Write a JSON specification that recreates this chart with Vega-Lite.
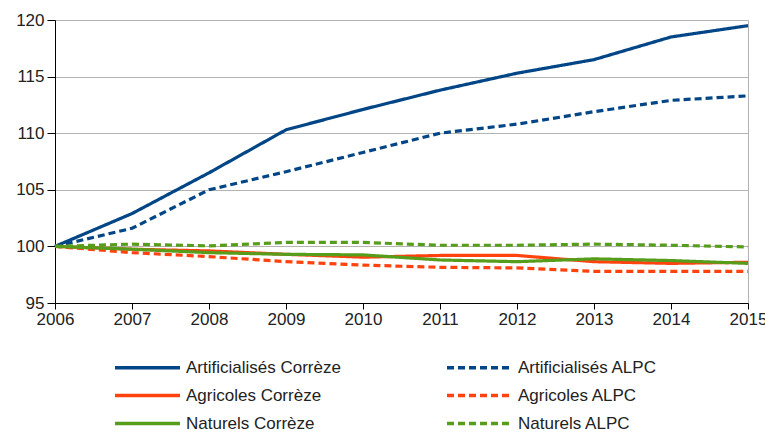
{
  "$schema": "https://vega.github.io/schema/vega-lite/v6.json",
  "width": 693,
  "height": 283,
  "autosize": "none",
  "padding": {"left": 55, "top": 20, "right": 17, "bottom": 129},
  "background": "white",
  "config": {
    "font": "Liberation Sans",
    "view": {"stroke": "#b3b3b3", "strokeWidth": 1}
  },
  "data": {
    "values": [
      {"year": 2006, "series": "Artificialisés Corrèze", "v": 100},
      {"year": 2007, "series": "Artificialisés Corrèze", "v": 102.9},
      {"year": 2008, "series": "Artificialisés Corrèze", "v": 106.5},
      {"year": 2009, "series": "Artificialisés Corrèze", "v": 110.3},
      {"year": 2010, "series": "Artificialisés Corrèze", "v": 112.1},
      {"year": 2011, "series": "Artificialisés Corrèze", "v": 113.8},
      {"year": 2012, "series": "Artificialisés Corrèze", "v": 115.3},
      {"year": 2013, "series": "Artificialisés Corrèze", "v": 116.5},
      {"year": 2014, "series": "Artificialisés Corrèze", "v": 118.5},
      {"year": 2015, "series": "Artificialisés Corrèze", "v": 119.5},
      {"year": 2006, "series": "Artificialisés ALPC", "v": 100},
      {"year": 2007, "series": "Artificialisés ALPC", "v": 101.6},
      {"year": 2008, "series": "Artificialisés ALPC", "v": 105.0},
      {"year": 2009, "series": "Artificialisés ALPC", "v": 106.6},
      {"year": 2010, "series": "Artificialisés ALPC", "v": 108.3},
      {"year": 2011, "series": "Artificialisés ALPC", "v": 110.0},
      {"year": 2012, "series": "Artificialisés ALPC", "v": 110.8},
      {"year": 2013, "series": "Artificialisés ALPC", "v": 111.9},
      {"year": 2014, "series": "Artificialisés ALPC", "v": 112.9},
      {"year": 2015, "series": "Artificialisés ALPC", "v": 113.3},
      {"year": 2006, "series": "Agricoles Corrèze", "v": 100},
      {"year": 2007, "series": "Agricoles Corrèze", "v": 99.75},
      {"year": 2008, "series": "Agricoles Corrèze", "v": 99.6},
      {"year": 2009, "series": "Agricoles Corrèze", "v": 99.3},
      {"year": 2010, "series": "Agricoles Corrèze", "v": 99.05},
      {"year": 2011, "series": "Agricoles Corrèze", "v": 99.2},
      {"year": 2012, "series": "Agricoles Corrèze", "v": 99.2},
      {"year": 2013, "series": "Agricoles Corrèze", "v": 98.65},
      {"year": 2014, "series": "Agricoles Corrèze", "v": 98.5},
      {"year": 2015, "series": "Agricoles Corrèze", "v": 98.6},
      {"year": 2006, "series": "Agricoles ALPC", "v": 100},
      {"year": 2007, "series": "Agricoles ALPC", "v": 99.45},
      {"year": 2008, "series": "Agricoles ALPC", "v": 99.1},
      {"year": 2009, "series": "Agricoles ALPC", "v": 98.65},
      {"year": 2010, "series": "Agricoles ALPC", "v": 98.35},
      {"year": 2011, "series": "Agricoles ALPC", "v": 98.15},
      {"year": 2012, "series": "Agricoles ALPC", "v": 98.1},
      {"year": 2013, "series": "Agricoles ALPC", "v": 97.8},
      {"year": 2014, "series": "Agricoles ALPC", "v": 97.8},
      {"year": 2015, "series": "Agricoles ALPC", "v": 97.8},
      {"year": 2006, "series": "Naturels Corrèze", "v": 100},
      {"year": 2007, "series": "Naturels Corrèze", "v": 99.75},
      {"year": 2008, "series": "Naturels Corrèze", "v": 99.45},
      {"year": 2009, "series": "Naturels Corrèze", "v": 99.3},
      {"year": 2010, "series": "Naturels Corrèze", "v": 99.25},
      {"year": 2011, "series": "Naturels Corrèze", "v": 98.8},
      {"year": 2012, "series": "Naturels Corrèze", "v": 98.65},
      {"year": 2013, "series": "Naturels Corrèze", "v": 98.9},
      {"year": 2014, "series": "Naturels Corrèze", "v": 98.75},
      {"year": 2015, "series": "Naturels Corrèze", "v": 98.5},
      {"year": 2006, "series": "Naturels ALPC", "v": 100},
      {"year": 2007, "series": "Naturels ALPC", "v": 100.2},
      {"year": 2008, "series": "Naturels ALPC", "v": 100.05},
      {"year": 2009, "series": "Naturels ALPC", "v": 100.35},
      {"year": 2010, "series": "Naturels ALPC", "v": 100.35},
      {"year": 2011, "series": "Naturels ALPC", "v": 100.1},
      {"year": 2012, "series": "Naturels ALPC", "v": 100.1},
      {"year": 2013, "series": "Naturels ALPC", "v": 100.2},
      {"year": 2014, "series": "Naturels ALPC", "v": 100.1},
      {"year": 2015, "series": "Naturels ALPC", "v": 99.95}
    ]
  },
  "mark": {"type": "line", "strokeWidth": 3.2, "strokeCap": "butt", "strokeJoin": "round"},
  "encoding": {
    "x": {
      "field": "year", "type": "quantitative",
      "scale": {"domain": [2006, 2015], "nice": false, "zero": false},
      "axis": {
        "title": null, "format": "d", "values": [2006, 2007, 2008, 2009, 2010, 2011, 2012, 2013, 2014, 2015],
        "grid": false, "labelFlush": false, "labelOverlap": false, "labelBound": false,
        "domainColor": "#000000", "tickColor": "#000000", "tickSize": 6,
        "labelFontSize": 17, "labelColor": "#222222", "labelPadding": 2
      }
    },
    "y": {
      "field": "v", "type": "quantitative",
      "scale": {"domain": [95, 120], "nice": false, "zero": false},
      "axis": {
        "title": null, "values": [95, 100, 105, 110, 115, 120],
        "grid": true, "gridColor": "#b3b3b3", "gridWidth": 1,
        "domainColor": "#000000", "tickColor": "#000000", "tickSize": 8,
        "labelFontSize": 17, "labelColor": "#222222", "labelPadding": 3
      }
    },
    "color": {
      "field": "series", "type": "nominal",
      "scale": {
        "domain": ["Artificialisés Corrèze", "Agricoles Corrèze", "Naturels Corrèze", "Artificialisés ALPC", "Agricoles ALPC", "Naturels ALPC"],
        "range": ["#004586", "#ff420e", "#579d1c", "#004586", "#ff420e", "#579d1c"]
      },
      "legend": {
        "title": null, "orient": "none", "legendX": 84, "legendY": 339,
        "columns": 2, "columnPadding": 99, "rowPadding": 10,
        "symbolType": "M-16.25,0H16.25", "symbolSize": 16, "symbolStrokeWidth": 3.5,
        "labelFontSize": 17, "labelColor": "#222222", "labelOffset": 30, "labelLimit": 300
      }
    },
    "strokeDash": {
      "field": "series", "type": "nominal",
      "scale": {
        "domain": ["Artificialisés Corrèze", "Agricoles Corrèze", "Naturels Corrèze", "Artificialisés ALPC", "Agricoles ALPC", "Naturels ALPC"],
        "range": [[1, 0], [1, 0], [1, 0], [7, 4], [7, 4], [7, 4]]
      }
    }
  }
}
